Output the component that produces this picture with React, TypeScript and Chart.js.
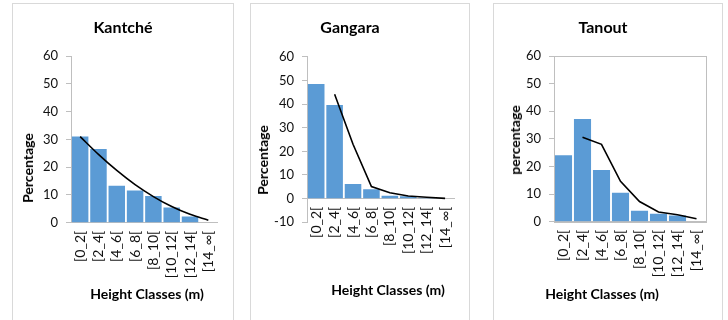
import React, { useEffect, useRef } from "react";
import { Chart, registerables } from "chart.js";

Chart.register(...registerables);

const categories = ["[0_2[", "[2_4[", "[4_6[", "[6_8[", "[8_10[", "[10_12[", "[12_14[", "[14_∞["];

const kantcheBars = [31, 26.5, 13.3, 11.6, 9.6, 5.5, 2.2, 0];
const kantcheTrend = [31, 24.6, 18.8, 13.7, 9.4, 5.8, 3.0, 0.9];

const gangaraBars = [48.5, 39.6, 6.2, 4.0, 1.2, 1.0, 0.4, 0];
const gangaraTrend = [null, 44.1, 23.0, 5.1, 2.5, 1.1, 0.6, 0.1];

const tanoutBars = [24.1, 37.2, 18.7, 10.5, 4.0, 2.9, 2.2, 0];
const tanoutTrend = [null, 30.6, 28.0, 14.6, 7.3, 3.5, 2.5, 1.1];

const FONT = "Lato, 'Liberation Sans', Arial, sans-serif";
const BLUE = "#5B9BD5";
const AXIS = "#bfbfbf";
const TICK_COLOR = "#111111";

type PanelCfg = {
  title: string;
  yTitle: string;
  bars: number[];
  trend: (number | null)[];
  yMin: number;
  tension: number;
  box: { left: number; width: number };
  plot: { left: number; right: number; top: number; bottom: number };
  xAtZero: boolean;
  plotBorder: boolean;
  titlePos: [number, number];
  yTitlePos: [number, number];
  xTitlePos: [number, number];
};

const panels: PanelCfg[] = [
  {
    title: "Kantché",
    yTitle: "Percentage",
    bars: kantcheBars,
    trend: kantcheTrend,
    yMin: 0,
    tension: 0.35,
    box: { left: 12, width: 222 },
    plot: { left: 71, right: 220, top: 56, bottom: 222.7 },
    xAtZero: false,
    plotBorder: false,
    titlePos: [123, 27],
    yTitlePos: [28, 168],
    xTitlePos: [147, 294],
  },
  {
    title: "Gangara",
    yTitle: "Percentage",
    bars: gangaraBars,
    trend: gangaraTrend,
    yMin: -10,
    tension: 0,
    box: { left: 250, width: 220 },
    plot: { left: 307, right: 468, top: 56.7, bottom: 222.3 },
    xAtZero: true,
    plotBorder: false,
    titlePos: [350, 27],
    yTitlePos: [263, 160],
    xTitlePos: [388, 290],
  },
  {
    title: "Tanout",
    yTitle: "percentage",
    bars: tanoutBars,
    trend: tanoutTrend,
    yMin: 0,
    tension: 0,
    box: { left: 493, width: 230 },
    plot: { left: 554, right: 706, top: 56, bottom: 221.7 },
    xAtZero: false,
    plotBorder: true,
    titlePos: [603, 27],
    yTitlePos: [515, 140],
    xTitlePos: [602, 294],
  },
];

const plotBorderPlugin = {
  id: "plotBorder",
  afterDraw(chart: any, _args: any, opts: any) {
    if (!opts || !opts.enabled) return;
    const { left, top, right, bottom } = chart.chartArea;
    const ctx = chart.ctx;
    ctx.save();
    ctx.strokeStyle = AXIS;
    ctx.lineWidth = 1;
    ctx.strokeRect(Math.round(left) + 0.5, Math.round(top) + 0.5, Math.round(right - left), Math.round(bottom - top));
    ctx.restore();
  },
};

const Y_W = 40;
const X_H = 60;
const H = 320;

function Panel({ cfg }: { cfg: PanelCfg }) {
  const ref = useRef<HTMLCanvasElement | null>(null);
  useEffect(() => {
    if (!ref.current) return;
    const bl = cfg.box.left;
    const padLeft = cfg.plot.left - bl - Y_W;
    const padRight = cfg.box.width - (cfg.plot.right - bl);
    const padTop = cfg.plot.top;
    const padBottom = cfg.xAtZero ? H - cfg.plot.bottom : H - cfg.plot.bottom - X_H;
    const chart = new Chart(ref.current, {
      type: "bar",
      data: {
        labels: categories,
        datasets: [
          {
            type: "line",
            data: cfg.trend,
            borderColor: "#000000",
            borderWidth: 1.6,
            pointRadius: 0,
            tension: cfg.tension,
            fill: false,
            order: 0,
          } as any,
          {
            type: "bar",
            data: cfg.bars,
            backgroundColor: BLUE,
            borderWidth: 0,
            barPercentage: 0.9,
            categoryPercentage: 1,
            order: 1,
          },
        ],
      },
      options: {
        animation: false,
        responsive: false,
        devicePixelRatio: 1,
        layout: { padding: { left: padLeft, right: padRight, top: padTop, bottom: padBottom } },
        plugins: {
          legend: { display: false },
          tooltip: { enabled: false },
          title: { display: false },
          plotBorder: { enabled: cfg.plotBorder },
        } as any,
        scales: {
          x: {
            type: "category",
            position: cfg.xAtZero ? ({ y: 0 } as any) : "bottom",
            offset: true,
            afterFit: (s: any) => {
              s.height = X_H;
            },
            grid: { display: true, drawOnChartArea: false, drawTicks: false, color: AXIS },
            border: { display: true, color: AXIS, width: 1 },
            ticks: {
              autoSkip: false,
              minRotation: 90,
              maxRotation: 90,
              padding: 8,
              color: TICK_COLOR,
              font: { family: FONT, size: 14 },
            },
          },
          y: {
            type: "linear",
            min: cfg.yMin,
            max: 60,
            afterFit: (s: any) => {
              s.width = Y_W;
            },
            grid: { display: true, drawOnChartArea: false, drawTicks: true, tickLength: 5, color: AXIS },
            border: { display: true, color: AXIS, width: 1 },
            ticks: {
              stepSize: 10,
              padding: 8,
              color: TICK_COLOR,
              font: { family: FONT, size: 13 },
            },
          },
        },
      },
      plugins: [plotBorderPlugin],
    });
    return () => chart.destroy();
  }, [cfg]);

  const textBase: React.CSSProperties = {
    position: "absolute",
    fontFamily: FONT,
    fontWeight: 700,
    color: "#000",
    whiteSpace: "nowrap",
    lineHeight: 1,
  };

  return (
    <>
      <div
        style={{
          position: "absolute",
          left: cfg.box.left,
          top: 3,
          width: cfg.box.width - 2,
          height: 330,
          border: "1px solid #d9d9d9",
          background: "#fff",
        }}
      />
      <canvas
        ref={ref}
        width={cfg.box.width}
        height={H}
        style={{ position: "absolute", left: cfg.box.left, top: 0, width: cfg.box.width, height: H }}
      />
      <div
        style={{
          ...textBase,
          fontSize: 16,
          left: cfg.titlePos[0],
          top: cfg.titlePos[1],
          transform: "translate(-50%, -50%)",
        }}
      >
        {cfg.title}
      </div>
      <div
        style={{
          ...textBase,
          fontSize: 14,
          left: cfg.yTitlePos[0],
          top: cfg.yTitlePos[1],
          transform: "translate(-50%, -50%) rotate(-90deg)",
        }}
      >
        {cfg.yTitle}
      </div>
      <div
        style={{
          ...textBase,
          fontSize: 14,
          left: cfg.xTitlePos[0],
          top: cfg.xTitlePos[1],
          transform: "translate(-50%, -50%)",
        }}
      >
        Height Classes (m)
      </div>
    </>
  );
}

export default function App() {
  return (
    <div
      style={{
        position: "fixed",
        left: 0,
        top: 0,
        width: 728,
        height: 320,
        overflow: "hidden",
        background: "#fff",
      }}
    >
      {panels.map((p) => (
        <Panel key={p.title} cfg={p} />
      ))}
    </div>
  );
}
